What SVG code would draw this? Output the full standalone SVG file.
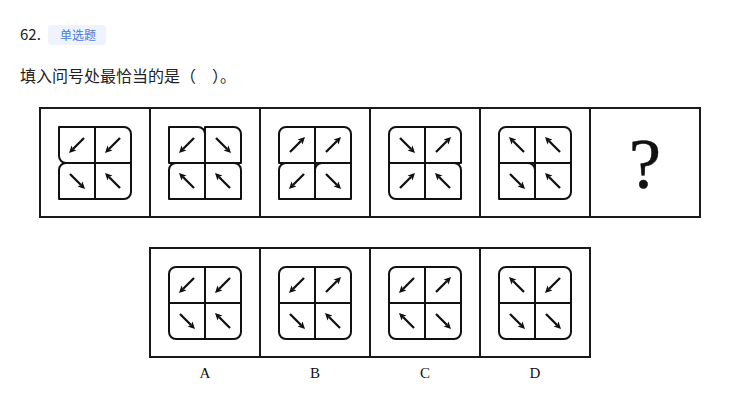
<svg xmlns="http://www.w3.org/2000/svg" xmlns:xlink="http://www.w3.org/1999/xlink" width="744" height="403" viewBox="0 0 744 403">
<style>
.frame{fill:none;stroke:#1a1a1a;stroke-width:2}
.cell{fill:none;stroke:#111;stroke-width:2;stroke-linejoin:round}
.cn{font-family:"Noto Sans CJK SC","Noto Sans",sans-serif;fill:#222}
.lab{font-family:"Liberation Serif",serif;font-size:15px;fill:#111;text-anchor:middle}
</style>
<defs>
<path id="rTL" class="cell" d="M0,7 A7,7 0 0 1 7,0 H36 V36 H0 Z"/>
<path id="rTR" class="cell" d="M0,0 H29 A7,7 0 0 1 36,7 V36 H0 Z"/>
<path id="rBR" class="cell" d="M0,0 H36 V29 A7,7 0 0 1 29,36 H0 Z"/>
<path id="rBL" class="cell" d="M0,0 H36 V36 H7 A7,7 0 0 1 0,29 Z"/>
<g id="a">
<line x1="-7" y1="7" x2="4" y2="-4" stroke="#111" stroke-width="2.3"/>
<polygon points="8,-8 5.5,-0.6 4.1,-4.1 0.6,-5.5" fill="#111"/>
</g>
</defs>
<rect width="744" height="403" fill="#fff"/>
<g id="header">
<text class="cn" x="20" y="40" font-size="15">62.</text>
<rect x="48" y="25" width="58" height="20" rx="3" fill="#eef3fd"/>
<text class="cn" x="60" y="40" font-size="12" style="fill:#4a7bd8">单选题</text>
<text class="cn" x="20" y="82" font-size="16">填入问号处最恰当的是（　）。</text>
</g>
<g id="question-row">
<rect class="frame" x="40" y="108" width="660" height="109"/>
<line class="frame" x1="150" y1="108" x2="150" y2="217"/>
<line class="frame" x1="260" y1="108" x2="260" y2="217"/>
<line class="frame" x1="370" y1="108" x2="370" y2="217"/>
<line class="frame" x1="480" y1="108" x2="480" y2="217"/>
<line class="frame" x1="590" y1="108" x2="590" y2="217"/>
</g>
<g id="fig1">
<use href="#rBL" x="59" y="127"/><use href="#rTR" x="95" y="127"/>
<use href="#rTL" x="59" y="163"/><use href="#rBR" x="95" y="163"/>
<use href="#a" transform="translate(77,145) rotate(180)"/>
<use href="#a" transform="translate(113,145) rotate(180)"/>
<use href="#a" transform="translate(77,181) rotate(90)"/>
<use href="#a" transform="translate(113,181) rotate(270)"/>
</g>
<g id="fig2">
<use href="#rTR" x="169" y="127"/><use href="#rTR" x="205" y="127"/>
<use href="#rTL" x="169" y="163"/><use href="#rTR" x="205" y="163"/>
<use href="#a" transform="translate(187,145) rotate(180)"/>
<use href="#a" transform="translate(223,145) rotate(90)"/>
<use href="#a" transform="translate(187,181) rotate(270)"/>
<use href="#a" transform="translate(223,181) rotate(270)"/>
</g>
<g id="fig3">
<use href="#rTL" x="279" y="127"/><use href="#rTR" x="315" y="127"/>
<use href="#rTL" x="279" y="163"/><use href="#rTL" x="315" y="163"/>
<use href="#a" transform="translate(297,145)"/>
<use href="#a" transform="translate(333,145)"/>
<use href="#a" transform="translate(297,181) rotate(180)"/>
<use href="#a" transform="translate(333,181) rotate(90)"/>
</g>
<g id="fig4">
<use href="#rTL" x="389" y="127"/><use href="#rTR" x="425" y="127"/>
<use href="#rBL" x="389" y="163"/><use href="#rTR" x="425" y="163"/>
<use href="#a" transform="translate(407,145) rotate(90)"/>
<use href="#a" transform="translate(443,145)"/>
<use href="#a" transform="translate(407,181)"/>
<use href="#a" transform="translate(443,181) rotate(270)"/>
</g>
<g id="fig5">
<use href="#rTL" x="499" y="127"/><use href="#rTR" x="535" y="127"/>
<use href="#rTR" x="499" y="163"/><use href="#rBR" x="535" y="163"/>
<use href="#a" transform="translate(517,145) rotate(270)"/>
<use href="#a" transform="translate(553,145) rotate(270)"/>
<use href="#a" transform="translate(517,181) rotate(90)"/>
<use href="#a" transform="translate(553,181) rotate(270)"/>
</g>
<g id="fig6">
<text x="645" y="188" font-family="Liberation Serif, serif" font-size="72" text-anchor="middle" fill="#111" stroke="#111" stroke-width="0.5">?</text>
</g>
<g id="options-row">
<rect class="frame" x="150" y="248" width="440" height="109"/>
<line class="frame" x1="260" y1="248" x2="260" y2="357"/>
<line class="frame" x1="370" y1="248" x2="370" y2="357"/>
<line class="frame" x1="480" y1="248" x2="480" y2="357"/>
</g>
<g id="optA">
<use href="#rTL" x="169" y="267"/><use href="#rTR" x="205" y="267"/>
<use href="#rBL" x="169" y="303"/><use href="#rBR" x="205" y="303"/>
<use href="#a" transform="translate(187,285) rotate(180)"/>
<use href="#a" transform="translate(223,285) rotate(180)"/>
<use href="#a" transform="translate(187,321) rotate(90)"/>
<use href="#a" transform="translate(223,321) rotate(270)"/>
<text class="lab" x="205" y="378">A</text>
</g>
<g id="optB">
<use href="#rTL" x="279" y="267"/><use href="#rTR" x="315" y="267"/>
<use href="#rBL" x="279" y="303"/><use href="#rBR" x="315" y="303"/>
<use href="#a" transform="translate(297,285) rotate(180)"/>
<use href="#a" transform="translate(333,285)"/>
<use href="#a" transform="translate(297,321) rotate(90)"/>
<use href="#a" transform="translate(333,321) rotate(270)"/>
<text class="lab" x="315" y="378">B</text>
</g>
<g id="optC">
<use href="#rTL" x="389" y="267"/><use href="#rTR" x="425" y="267"/>
<use href="#rBL" x="389" y="303"/><use href="#rBR" x="425" y="303"/>
<use href="#a" transform="translate(407,285) rotate(180)"/>
<use href="#a" transform="translate(443,285)"/>
<use href="#a" transform="translate(407,321) rotate(270)"/>
<use href="#a" transform="translate(443,321) rotate(90)"/>
<text class="lab" x="425" y="378">C</text>
</g>
<g id="optD">
<use href="#rTL" x="499" y="267"/><use href="#rTR" x="535" y="267"/>
<use href="#rBL" x="499" y="303"/><use href="#rBR" x="535" y="303"/>
<use href="#a" transform="translate(517,285) rotate(270)"/>
<use href="#a" transform="translate(553,285) rotate(180)"/>
<use href="#a" transform="translate(517,321) rotate(90)"/>
<use href="#a" transform="translate(553,321) rotate(90)"/>
<text class="lab" x="535" y="378">D</text>
</g>
</svg>
